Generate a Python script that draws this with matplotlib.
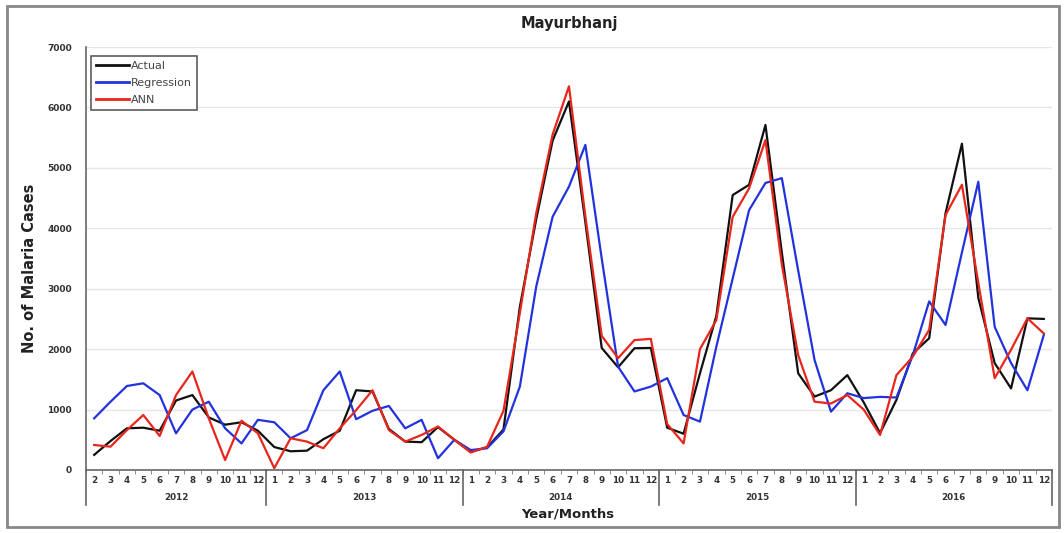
import matplotlib.pyplot as plt
from matplotlib.patches import Rectangle

# monthly series, Feb 2012 .. Dec 2016
years = ['2012', '2013', '2014', '2015', '2016']
months = list(range(2, 13)) + list(range(1, 13)) * 4

actual = [250, 480, 690, 700, 650, 1150, 1240, 870, 750, 790, 650,
          380, 310, 320, 510, 650, 1320, 1300, 680, 470, 460, 710, 500,
          300, 375, 670, 2700, 4150, 5450, 6100, 4100, 2020, 1700, 2015, 2020,
          700, 600, 1600, 2550, 4550, 4720, 5710, 3600, 1600, 1215, 1320, 1570,
          1120, 610, 1160, 1930, 2180, 4250, 5400, 2850, 1770, 1350, 2510, 2500]

regression = [855, 1130, 1390, 1435, 1240, 607, 1000, 1130, 690, 440, 830,
              790, 525, 660, 1320, 1630, 840, 980, 1060, 690, 830, 195, 500,
              330, 360, 640, 1380, 3035, 4190, 4690, 5380, 3500, 1710, 1300, 1380,
              1520, 910, 800, 2040, 3170, 4300, 4750, 4830, 3300, 1820, 965, 1270,
              1190, 1210, 1200, 1900, 2790, 2400, 3600, 4770, 2370, 1770, 1320, 2235]

ann = [414, 386, 660, 910, 563, 1240, 1630, 855, 165, 815, 607,
       30, 525, 470, 360, 690, 990, 1320, 660, 470, 580, 720, 500,
       290, 385, 980, 2600, 4250, 5550, 6350, 4200, 2220, 1850, 2150, 2170,
       760, 440, 2000, 2480, 4190, 4660, 5460, 3400, 1900, 1130, 1100, 1240,
       1000, 580, 1570, 1875, 2320, 4220, 4720, 3100, 1520, 1990, 2510, 2260]

x = list(range(len(months)))

fig = plt.figure(figsize=(10.64, 5.33), dpi=100)
ax = fig.add_axes([0.0808, 0.1182, 0.9079, 0.7936])

ax.plot(x, actual, color='#111111', lw=1.6, label='Actual')
ax.plot(x, regression, color='#2233dd', lw=1.6, label='Regression')
ax.plot(x, ann, color='#e8261c', lw=1.6, label='ANN')

ax.set_xlim(-0.5, len(months) - 0.5)
ax.set_ylim(0, 7000)
ax.set_yticks(range(0, 7001, 1000))
ax.yaxis.grid(True, color='#e6e6e6', lw=1)
ax.set_axisbelow(True)
for s in ['top', 'right']:
    ax.spines[s].set_visible(False)
for s in ['left', 'bottom']:
    ax.spines[s].set_color('#666666')
    ax.spines[s].set_linewidth(1.2)

ax.tick_params(axis='y', length=0, pad=10, labelsize=6.5, labelcolor='#333333')
for t in ax.get_yticklabels():
    t.set_fontweight('bold')

ax.set_xticks(x)
ax.set_xticklabels([str(m) for m in months], fontsize=6.3, fontweight='bold',
                   color='#333333')
ax.tick_params(axis='x', which='major', length=0, pad=4)
ax.set_xticks([i - 0.5 for i in range(len(months) + 1)], minor=True)
ax.tick_params(axis='x', which='minor', length=3, color='#777777', direction='out')

# year groups under the month labels
tr = ax.get_xaxis_transform()
starts = [0, 11, 23, 35, 47, 59]
for k, yr in enumerate(years):
    ax.text((starts[k] + starts[k + 1] - 1) / 2, -0.064, yr, transform=tr,
            ha='center', va='center', fontsize=6.3, fontweight='bold', color='#333333')
for b in starts:
    ax.plot([b - 0.5, b - 0.5], [0, -0.083], transform=tr, color='#666666',
            lw=1.2, clip_on=False)

ax.set_title('Mayurbhanj', fontsize=10.5, fontweight='bold', color='#222222', pad=14)
fig.text(568 / 1064, 1 - 514 / 533, 'Year/Months', ha='center', va='center',
         fontsize=9.5, fontweight='bold', color='#222222')
fig.text(30 / 1064, 1 - 268 / 533, 'No. of Malaria Cases', rotation=90,
         ha='center', va='center', fontsize=10.5, fontweight='bold',
         family=['Liberation Sans Narrow', 'DejaVu Sans'], color='#222222')

leg = ax.legend(loc='upper left', bbox_to_anchor=(0.005, 0.979), fontsize=8,
                frameon=True, fancybox=False, edgecolor='#333333',
                handlelength=3.0, handletextpad=0.2, labelspacing=0.65,
                borderpad=0.45, borderaxespad=0)
leg.get_frame().set_linewidth(1.2)
for t in leg.get_texts():
    t.set_color('#444444')
for h in leg.get_lines():
    h.set_linewidth(2)

# outer frame around the whole chart
fig.patches.append(Rectangle((7 / 1064, 1 - 527 / 533), 1052 / 1064, 521 / 533,
                             transform=fig.transFigure, fill=False,
                             edgecolor='#888888', lw=2))

fig.savefig('out.png', dpi=100)
